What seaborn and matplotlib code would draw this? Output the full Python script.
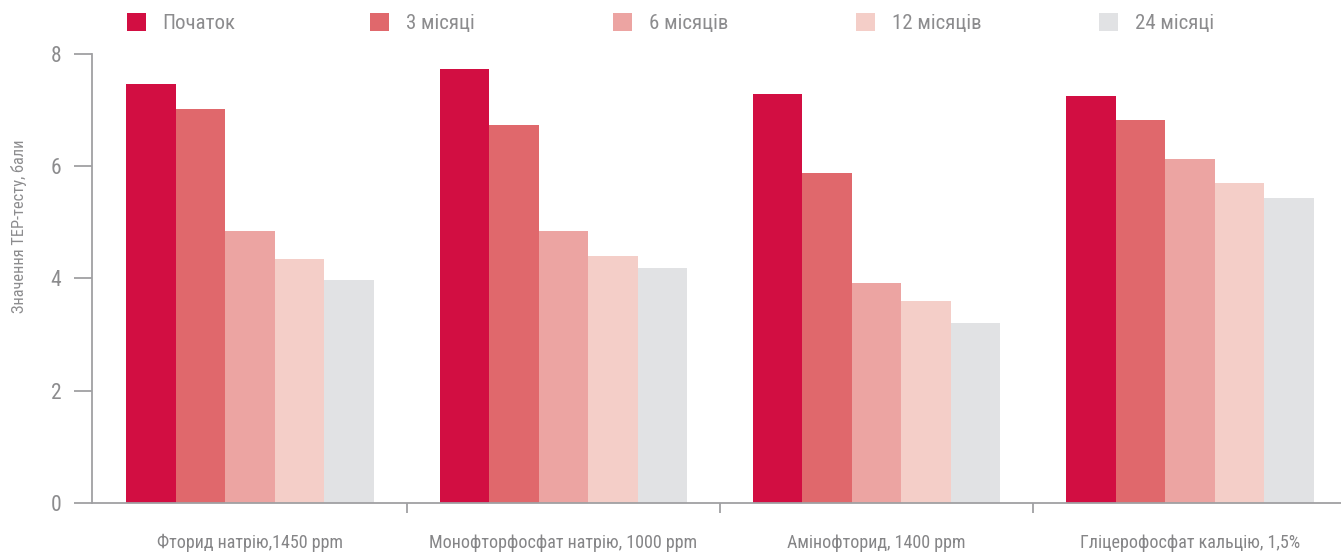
import matplotlib
matplotlib.use("Agg")
import matplotlib.pyplot as plt
from matplotlib import font_manager as fm
from matplotlib.patches import Patch
import seaborn as sns
import pandas as pd

categories = ["Фторид натрію,1450 ppm", "Монофторфосфат натрію, 1000 ppm",
              "Амінофторид, 1400 ppm", "Гліцерофосфат кальцію, 1,5%"]
periods = ["Початок", "3 місяці", "6 місяців", "12 місяців", "24 місяці"]
start = [7.46, 7.72, 7.28, 7.24]
m3 = [7.01, 6.73, 5.87, 6.82]
m6 = [4.84, 4.84, 3.92, 6.12]
m12 = [4.34, 4.40, 3.59, 5.69]
m24 = [3.97, 4.18, 3.20, 5.43]
colors = ["#D20E42", "#E0686C", "#ECA4A2", "#F4CEC8", "#E1E2E4"]
yticks = [0, 2, 4, 6, 8]
ylabel = "Значення ТЕР-тесту, бали"

sns.set_style("white")
entries = fm.fontManager.ttflist
cond = [f for f in entries if ("condensed" in str(f.stretch).lower() or "Condensed" in f.fname
                               or "Narrow" in f.fname or "Narrow" in f.name or "Condensed" in f.name)]
fam, stretch = "DejaVu Sans", "normal"
pref = ["Roboto Condensed", "Liberation Sans Narrow", "Open Sans Condensed", "Noto Sans"]
names = {f.name for f in cond}
chosen = None
for p in pref:
    if p in names:
        chosen = p
        break
if chosen is None and cond:
    chosen = cond[0].name
if chosen is not None:
    fam = chosen
    stretch = "condensed"
plt.rcParams["font.family"] = [fam, "DejaVu Sans"]
plt.rcParams["font.stretch"] = stretch
txt = "#8C8C8E"
axc = "#A0A0A3"

series = [start, m3, m6, m12, m24]
rows = []
for p, vals in zip(periods, series):
    for c, v in zip(categories, vals):
        rows.append({"cat": c, "period": p, "value": v})
df = pd.DataFrame(rows)

fig = plt.figure(figsize=(13.41, 5.54), dpi=100)
ax = fig.add_axes([92 / 1341, 1 - 503 / 554, 1 - 92 / 1341, (503 - 53.5) / 554])
sns.barplot(data=df, x="cat", y="value", hue="period", hue_order=periods,
            order=categories, palette=colors, width=0.79, saturation=1,
            linewidth=0, ax=ax, legend=False)

ax.set_xlim(-0.504, 3.482)
ax.set_ylim(0, 8)
ax.set_yticks(yticks)
ax.set_yticklabels([str(t) for t in yticks])
ax.set_xlabel("")
ax.set_ylabel(ylabel, fontsize=11.8, color=txt)
ax.yaxis.set_label_coords(-(92 - 27) / 1249, 0.615)

for s in ["top", "right"]:
    ax.spines[s].set_visible(False)
for s in ["left", "bottom"]:
    ax.spines[s].set_color(axc)
    ax.spines[s].set_linewidth(1.3)

ax.tick_params(axis="y", direction="out", length=13, width=1.3, color=axc,
               labelsize=15.5, labelcolor=txt, pad=9, left=True)
ax.tick_params(axis="x", which="major", length=0, labelsize=13,
               labelcolor="#858587", pad=22)
ax.set_xticks([0.5, 1.5, 2.5], minor=True)
ax.tick_params(axis="x", which="minor", direction="out", length=7, width=1.3,
               color=axc, bottom=True)
ax.grid(False)

xs = [128, 371, 614, 857, 1100]
for x, p, c in zip(xs, periods, colors):
    leg = fig.legend(handles=[Patch(facecolor=c, edgecolor="none")], labels=[p],
                     loc="center left", bbox_to_anchor=(x / 1341 - 0.0056, 1 - 23 / 554),
                     frameon=False, fontsize=15, handlelength=0.92, handleheight=0.92,
                     handletextpad=0.8, borderaxespad=0, borderpad=0.3)
    for t in leg.get_texts():
        t.set_color(txt)

fig.savefig("out.png", dpi=100)
